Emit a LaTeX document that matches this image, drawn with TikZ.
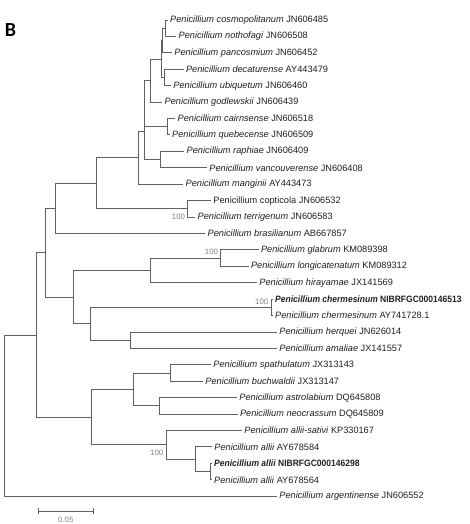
\documentclass[tikz,border=0pt]{standalone}
\usepackage{fontspec}
\setmainfont{Liberation Sans}
\newfontfamily\labfont{Carlito}
\begin{document}
\begin{tikzpicture}[x=1pt,y=-1pt,
  br/.style={draw=black!62,line width=0.9pt,line cap=rect},
  lab/.style={anchor=west,inner sep=0pt,text=black!88,font=\fontsize{9.2}{10}\selectfont},
  boot/.style={anchor=east,inner sep=0pt,text=black!50,font=\fontsize{7.8}{9}\selectfont}]
\useasboundingbox (0,0) rectangle (469,524);
\node[font=\labfont\fontsize{20}{22}\selectfont\bfseries,inner sep=0pt] (title) at (10.5,30) {B};
% leaf tips
\coordinate (t1) at (167.5,20.00);
\coordinate (t2) at (176.0,36.42);
\coordinate (t3) at (171.7,52.84);
\coordinate (t4) at (183.3,69.26);
\coordinate (t5) at (170.7,85.68);
\coordinate (t6) at (162.0,102.10);
\coordinate (t7) at (175.0,118.52);
\coordinate (t8) at (169.5,134.94);
\coordinate (t9) at (184.0,151.36);
\coordinate (t10) at (206.7,167.78);
\coordinate (t11) at (183.0,184.20);
\coordinate (t12) at (210.7,200.62);
\coordinate (t13) at (195.0,217.04);
\coordinate (t14) at (205.0,233.46);
\coordinate (t15) at (258.3,249.88);
\coordinate (t16) at (248.3,266.30);
\coordinate (t17) at (256.7,282.72);
\coordinate (t18) at (272.5,299.14);
\coordinate (t19) at (272.5,315.56);
\coordinate (t20) at (276.7,331.98);
\coordinate (t21) at (276.7,348.40);
\coordinate (t22) at (210.7,364.82);
\coordinate (t23) at (202.7,381.24);
\coordinate (t24) at (236.7,397.66);
\coordinate (t25) at (237.3,414.08);
\coordinate (t26) at (241.7,430.50);
\coordinate (t27) at (211.7,446.92);
\coordinate (t28) at (211.5,463.34);
\coordinate (t29) at (211.5,479.76);
\coordinate (t30) at (276.7,496.18);
% internal nodes
\coordinate (N) at (165.7,28.21);
\coordinate (Qp) at (162.2,40.53);
\coordinate (R) at (164.0,77.47);
\coordinate (M) at (161.7,59.00);
\coordinate (J) at (150.7,80.55);
\coordinate (K) at (167.3,126.73);
\coordinate (Ip) at (144.6,103.64);
\coordinate (L) at (160.7,159.57);
\coordinate (I) at (144.0,131.60);
\coordinate (G) at (138.3,157.90);
\coordinate (H) at (187.7,208.83);
\coordinate (F) at (96.7,183.37);
\coordinate (D) at (55.3,208.40);
\coordinate (U) at (220.7,258.09);
\coordinate (S) at (150.0,270.40);
\coordinate (V) at (271.7,307.35);
\coordinate (W) at (130.0,340.19);
\coordinate (T) at (90.0,323.77);
\coordinate (E) at (73.3,297.10);
\coordinate (B) at (45.0,252.75);
\coordinate (Z) at (170.7,373.03);
\coordinate (AA) at (159.0,405.87);
\coordinate (X) at (133.3,389.45);
\coordinate (AC) at (210.7,471.55);
\coordinate (AB) at (195.0,459.24);
\coordinate (Y) at (166.7,444.87);
\coordinate (C) at (91.7,417.16);
\coordinate (A) at (36.7,334.96);
\coordinate (root) at (4.0,415.57);
% branches
\draw[br] (N) |- (t1); \draw[br] (N) |- (t2);
\draw[br] (Qp) |- (N); \draw[br] (Qp) |- (t3);
\draw[br] (R) |- (t4); \draw[br] (R) |- (t5);
\draw[br] (M) |- (Qp); \draw[br] (M) |- (R);
\draw[br] (J) |- (M); \draw[br] (J) |- (t6);
\draw[br] (K) |- (t7); \draw[br] (K) |- (t8);
\draw[br] (Ip) |- (J); \draw[br] (Ip) |- (K);
\draw[br] (L) |- (t9); \draw[br] (L) |- (t10);
\draw[br] (I) |- (Ip); \draw[br] (I) |- (L);
\draw[br] (G) |- (I); \draw[br] (G) |- (t11);
\draw[br] (H) |- (t12); \draw[br] (H) |- (t13);
\draw[br] (F) |- (G); \draw[br] (F) |- (H);
\draw[br] (D) |- (F); \draw[br] (D) |- (t14);
\draw[br] (U) |- (t15); \draw[br] (U) |- (t16);
\draw[br] (S) |- (U); \draw[br] (S) |- (t17);
\draw[br] (V) |- (t18); \draw[br] (V) |- (t19);
\draw[br] (W) |- (t20); \draw[br] (W) |- (t21);
\draw[br] (T) |- (V); \draw[br] (T) |- (W);
\draw[br] (E) |- (S); \draw[br] (E) |- (T);
\draw[br] (B) |- (D); \draw[br] (B) |- (E);
\draw[br] (Z) |- (t22); \draw[br] (Z) |- (t23);
\draw[br] (AA) |- (t24); \draw[br] (AA) |- (t25);
\draw[br] (X) |- (Z); \draw[br] (X) |- (AA);
\draw[br] (AC) |- (t28); \draw[br] (AC) |- (t29);
\draw[br] (AB) |- (t27); \draw[br] (AB) |- (AC);
\draw[br] (Y) |- (t26); \draw[br] (Y) |- (AB);
\draw[br] (C) |- (X); \draw[br] (C) |- (Y);
\draw[br] (A) |- (B); \draw[br] (A) |- (C);
\draw[br] (root) |- (A); \draw[br] (root) |- (t30);
% labels
\node[lab] (n1) at ([xshift=2.5]t1) {\textit{Penicillium cosmopolitanum} JN606485};
\node[lab] (n2) at ([xshift=2.5]t2) {\textit{Penicillium nothofagi} JN606508};
\node[lab] (n3) at ([xshift=2.5]t3) {\textit{Penicillium pancosmium} JN606452};
\node[lab] (n4) at ([xshift=2.5]t4) {\textit{Penicillium decaturense} AY443479};
\node[lab] (n5) at ([xshift=2.5]t5) {\textit{Penicillium ubiquetum} JN606460};
\node[lab] (n6) at ([xshift=2.5]t6) {\textit{Penicillium godlewskii} JN606439};
\node[lab] (n7) at ([xshift=2.5]t7) {\textit{Penicillium cairnsense} JN606518};
\node[lab] (n8) at ([xshift=2.5]t8) {\textit{Penicillium quebecense} JN606509};
\node[lab] (n9) at ([xshift=2.5]t9) {\textit{Penicillium raphiae} JN606409};
\node[lab] (n10) at ([xshift=2.5]t10) {\textit{Penicillium vancouverense} JN606408};
\node[lab] (n11) at ([xshift=2.5]t11) {\textit{Penicillium manginii} AY443473};
\node[lab] (n12) at ([xshift=2.5]t12) {Penicillium copticola JN606532};
\node[lab] (n13) at ([xshift=2.5]t13) {\textit{Penicillium terrigenum} JN606583};
\node[lab] (n14) at ([xshift=2.5]t14) {\textit{Penicillium brasilianum} AB667857};
\node[lab] (n15) at ([xshift=2.5]t15) {\textit{Penicillium glabrum} KM089398};
\node[lab] (n16) at ([xshift=2.5]t16) {\textit{Penicillium longicatenatum} KM089312};
\node[lab] (n17) at ([xshift=2.5]t17) {\textit{Penicillium hirayamae} JX141569};
\node[lab] (n18) at ([xshift=2.5]t18) {\scalebox{0.925}[1]{\textbf{\textit{Penicillium chermesinum} NIBRFGC000146513}}};
\node[lab] (n19) at ([xshift=2.5]t19) {\textit{Penicillium chermesinum} AY741728.1};
\node[lab] (n20) at ([xshift=2.5]t20) {\textit{Penicillium herquei} JN626014};
\node[lab] (n21) at ([xshift=2.5]t21) {\textit{Penicillium amaliae} JX141557};
\node[lab] (n22) at ([xshift=2.5]t22) {\textit{Penicillium spathulatum} JX313143};
\node[lab] (n23) at ([xshift=2.5]t23) {\textit{Penicillium buchwaldii} JX313147};
\node[lab] (n24) at ([xshift=2.5]t24) {\textit{Penicillium astrolabium} DQ645808};
\node[lab] (n25) at ([xshift=2.5]t25) {\textit{Penicillium neocrassum} DQ645809};
\node[lab] (n26) at ([xshift=2.5]t26) {\textit{Penicillium allii-sativi} KP330167};
\node[lab] (n27) at ([xshift=2.5]t27) {\textit{Penicillium allii} AY678584};
\node[lab] (n28) at ([xshift=2.5]t28) {\scalebox{0.925}[1]{\textbf{\textit{Penicillium allii} NIBRFGC000146298}}};
\node[lab] (n29) at ([xshift=2.5]t29) {\textit{Penicillium allii} AY678564};
\node[lab] (n30) at ([xshift=2.5]t30) {\textit{Penicillium argentinense} JN606552};
% bootstrap values
\node[boot] (bH) at ([xshift=-2.5,yshift=-8.2]H) {100};
\node[boot] (bU) at ([xshift=-2.5,yshift=6]U) {100};
\node[boot] (bV) at ([xshift=-3.3,yshift=5.7]V) {100};
\node[boot] (bY) at ([xshift=-3.3,yshift=-7.8]Y) {100};
% scale bar
\coordinate (s1) at (38.3,511);
\coordinate (s2) at (93.3,511);
\draw[br] (s1) -- (s2);
\draw[br] ([yshift=-3]s1) -- ([yshift=3]s1);
\draw[br] ([yshift=-3]s2) -- ([yshift=3]s2);
\node[inner sep=0pt,text=black!50,font=\fontsize{7.8}{9}\selectfont] (sl) at (65.8,519.5) {0.05};
\end{tikzpicture}
\end{document}
